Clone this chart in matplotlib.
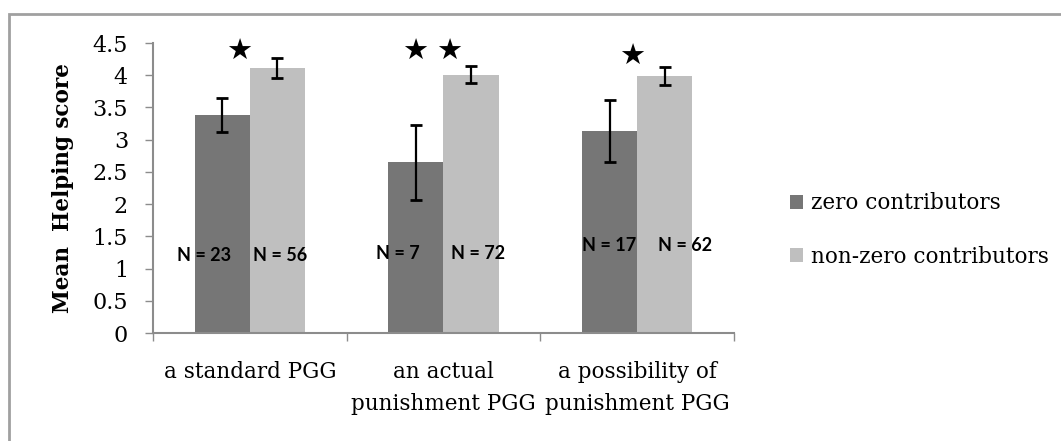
import matplotlib
matplotlib.use("Agg")
import matplotlib.pyplot as plt
from matplotlib.patches import Rectangle
import numpy as np

# Data
categories = ["a standard PGG", "an actual\npunishment PGG", "a possibility of\npunishment PGG"]
series_names = ["zero contributors", "non-zero contributors"]
zero_means = [3.38, 2.65, 3.13]
zero_errs = [0.26, 0.58, 0.48]
nonzero_means = [4.11, 4.01, 3.99]
nonzero_errs = [0.16, 0.13, 0.14]
zero_n = ["N = 23", "N = 7", "N = 17"]
nonzero_n = ["N = 56", "N = 72", "N = 62"]
star_counts = [1, 2, 1]
y_ticks = [0, 0.5, 1, 1.5, 2, 2.5, 3, 3.5, 4, 4.5]
y_tick_labels = ["0", "0.5", "1", "1.5", "2", "2.5", "3", "3.5", "4", "4.5"]

DARK = "#767676"
LIGHT = "#BFBFBF"
AXIS = "#8C8C8C"
SERIF = "DejaVu Serif"

fig = plt.figure(figsize=(10.61, 4.41), dpi=100)
fig.patch.set_facecolor("white")

# outer chart-area border
fig.patches.append(Rectangle((9 / 1061, -0.5), 2.0, 0.5 + 1 - 14 / 441,
                             transform=fig.transFigure, fill=False,
                             edgecolor="#A0A0A0", linewidth=2.0, zorder=0))

ax = fig.add_axes([153 / 1061, 1 - 333 / 441, 581 / 1061, 290 / 441])

x = np.arange(len(categories))
w = 0.284
err_kw = dict(ecolor="black", elinewidth=1.6, capsize=4, capthick=2)
b1 = ax.bar(x - w / 2, zero_means, w, color=DARK, label=series_names[0],
            yerr=zero_errs, error_kw=err_kw, zorder=2)
b2 = ax.bar(x + w / 2, nonzero_means, w, color=LIGHT, label=series_names[1],
            yerr=nonzero_errs, error_kw=err_kw, zorder=2)

ax.set_xlim(-0.5, 2.5)
ax.set_ylim(0, 4.5)

# sample-size labels inside the bars
n_offsets_zero = [(-0.236, 1.21), (0.766 - 1, 1.24), (1.857 - 2, 1.36)]
n_offsets_non = [(0.156, 1.21), (1.18 - 1, 1.24), (2.247 - 2, 1.36)]
for i in range(len(categories)):
    dx, yy = n_offsets_zero[i]
    ax.text(x[i] + dx, yy, zero_n[i], ha="center", va="center",
            fontsize=13, fontweight="bold", family="Lato", color="black", zorder=3)
    dx, yy = n_offsets_non[i]
    ax.text(x[i] + dx, yy, nonzero_n[i], ha="center", va="center",
            fontsize=13, fontweight="bold", family="Lato", color="black", zorder=3)

# significance stars
star_pos = [[(-0.054, 4.37)], [(0.854, 4.36), (1.031, 4.36)], [(1.974, 4.29)]]
for i, positions in enumerate(star_pos):
    for (sx, sy) in positions[:star_counts[i]]:
        ax.text(sx, sy, "\u2605", ha="center", va="center", fontsize=21,
                family="DejaVu Sans", color="black", clip_on=False)

# axes styling
for s in ["top", "right"]:
    ax.spines[s].set_visible(False)
for s in ["left", "bottom"]:
    ax.spines[s].set_color(AXIS)
    ax.spines[s].set_linewidth(1.5)

ax.set_yticks(y_ticks)
ax.set_yticklabels(y_tick_labels, family=SERIF, fontsize=16)
ax.tick_params(axis="y", length=6, width=1, color=AXIS, pad=12)

ax.set_xticks(x)
ax.set_xticklabels(categories, family=SERIF, fontsize=15.5, linespacing=1.6, va="top")
ax.set_xticks([-0.5, 0.5, 1.5, 2.5], minor=True)
ax.tick_params(axis="x", which="major", length=0, pad=20)
ax.tick_params(axis="x", which="minor", length=6, width=1, color=AXIS)

ax.set_ylabel("Mean  Helping score", family=SERIF, fontsize=15.5, fontweight="bold",
              labelpad=13)

leg = fig.legend(handles=[b1, b2], labels=series_names, loc="center left",
                 bbox_to_anchor=(771 / 1061, 1 - 230 / 441), frameon=False,
                 prop={"family": SERIF, "size": 15.5}, handlelength=0.6,
                 handleheight=0.6, handletextpad=0.35, labelspacing=1.45)

fig.savefig("out.png", dpi=100, facecolor="white")
